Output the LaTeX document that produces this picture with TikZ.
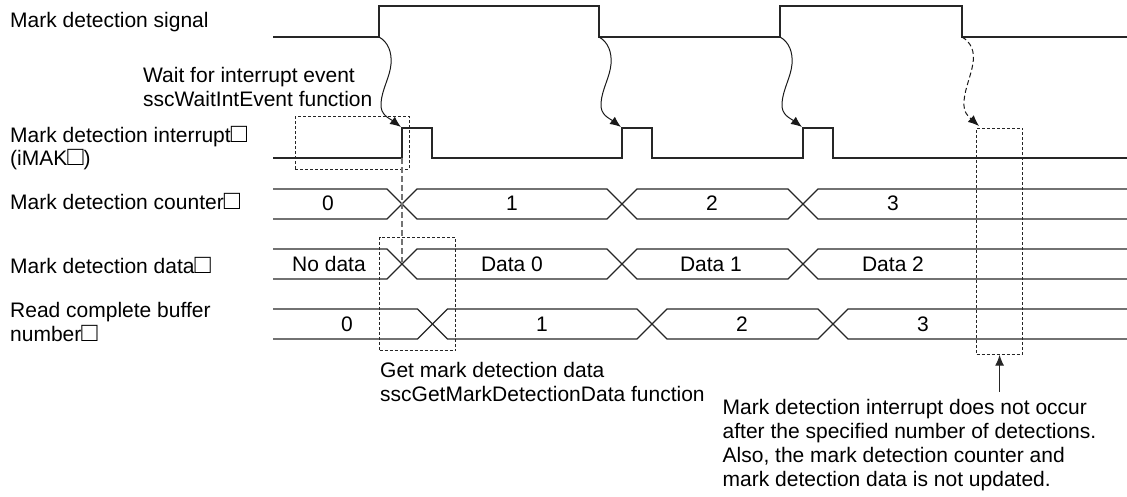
\documentclass[tikz,border=0pt]{standalone}
\usepackage{fontspec}
\setmainfont{Liberation Sans}
\usetikzlibrary{arrows.meta, positioning, calc}
\newcommand{\wsq}{{\fontsize{27pt}{27pt}\selectfont □}}

\begin{document}
\begin{tikzpicture}[x=1pt, y=-1pt,
  txt/.style={inner sep=0pt, align=left, font=\fontsize{21pt}{23.7pt}\selectfont},
  sig/.style={draw=black!85, line width=1.5pt},
  bus/.style={draw=black!85, line width=1.3pt},
  dbox/.style={draw=black!85, line width=1pt, dash pattern=on 3pt off 2pt, inner sep=0pt},
  wave/.style={draw=black!90, line width=1pt, -{Latex[length=11pt, width=9pt]}},
  guide/.style={draw=black!55, line width=1.3pt, dash pattern=on 6pt off 3pt},
  arr/.style={draw=black!85, line width=1.2pt, -{Latex[length=11pt, width=9pt]}}
]
\useasboundingbox (0,0) rectangle (1127,497);

%% signal names (base = last line)
\node[txt, anchor=base west] (sigl)  at (10,28)    {Mark detection signal};
\node[txt, anchor=base west] (waitl) at (143,106.5) {Wait for interrupt event\\sscWaitIntEvent function};
\node[txt, anchor=base west] (irql)  at (10,166)   {Mark detection interrupt\wsq\\(iMAK\wsq)};
\node[txt, anchor=base west] (cntl)  at (10,210)   {Mark detection counter\wsq};
\node[txt, anchor=base west] (datl)  at (10,273)   {Mark detection data\wsq};
\node[txt, anchor=base west] (bufl)  at (10,341)   {Read complete buffer\\number\wsq};

%% mark detection signal / interrupt
\draw[sig] (273,37) -- (379,37) -- (379,6) -- (599,6) -- (599,37) -- (780,37)
  -- (780,6) -- (962,6) -- (962,37) -- (1127,37);
\draw[sig] (273,158) -- (402,158) -- (402,128) -- (432,128) -- (432,158) -- (622,158)
  -- (622,128) -- (652,128) -- (652,158) -- (803,158) -- (803,128) -- (833,128)
  -- (833,158) -- (1127,158);

%% edges
\coordinate (rise1) at (379,37);
\coordinate (rise2) at (599,37);
\coordinate (rise3) at (780,37);
\coordinate (fall3) at (962,37);
\coordinate (irq1) at (401,127);
\coordinate (irq2) at (621,127);
\coordinate (irq3) at (802,127);
\coordinate (noirq) at (979,126);

%% interrupt arrows
\foreach \s/\e in {rise1/irq1, rise2/irq2, rise3/irq3}
  \draw[wave] (\s) .. controls ($(\s)+(9,5)$) and ($(\s)+(13,15)$) .. ($(\s)+(12,27)$)
    .. controls ($(\s)+(11,40)$) and ($(\s)+(3,52)$) .. ($(\s)+(2,66)$)
    .. controls ($(\s)+(1,78)$) and ($(\e)+(-12,-9)$) .. (\e);
\draw[wave, dash pattern=on 5pt off 3pt] (fall3) .. controls ($(fall3)+(9,5)$) and ($(fall3)+(13,15)$) .. ($(fall3)+(11,26)$)
    .. controls ($(fall3)+(9,39)$) and ($(fall3)+(3,51)$) .. ($(fall3)+(2,64)$)
    .. controls ($(fall3)+(1,76)$) and ($(noirq)+(-10,-9)$) .. (noirq);

%% buses
\foreach \y/\c/\d/\e in {204/402/622/803, 264/402/622/803, 324/432.5/652/833} {
  \draw[bus] (273,\y-15) -- (\c-15,\y-15) -- (\c,\y) -- (\c-15,\y+15) -- (273,\y+15);
  \draw[bus] (\c,\y) -- (\c+15,\y-15) -- (\d-15,\y-15) -- (\d,\y) -- (\d-15,\y+15) -- (\c+15,\y+15) -- cycle;
  \draw[bus] (\d,\y) -- (\d+15,\y-15) -- (\e-15,\y-15) -- (\e,\y) -- (\e-15,\y+15) -- (\d+15,\y+15) -- cycle;
  \draw[bus] (1127,\y-15) -- (\e+15,\y-15) -- (\e,\y) -- (\e+15,\y+15) -- (1127,\y+15);
}

%% bus values
\node[txt, anchor=base] (cnt0) at (328,211) {0};
\node[txt, anchor=base] (cnt1) at (512,211) {1};
\node[txt, anchor=base] (cnt2) at (712,211) {2};
\node[txt, anchor=base] (cnt3) at (893,211) {3};
\node[txt, anchor=base] (dat0) at (329,271) {No data};
\node[txt, anchor=base] (dat1) at (512,271) {Data 0};
\node[txt, anchor=base] (dat2) at (711,271) {Data 1};
\node[txt, anchor=base] (dat3) at (893,271) {Data 2};
\node[txt, anchor=base] (buf0) at (347,331) {0};
\node[txt, anchor=base] (buf1) at (542,331) {1};
\node[txt, anchor=base] (buf2) at (742,331) {2};
\node[txt, anchor=base] (buf3) at (923,331) {3};

%% dashed boxes
\node[dbox, minimum width=114pt, minimum height=52.6pt] (waitbox) at (352.2,143) {};
\node[dbox, minimum width=76pt, minimum height=113.4pt] (getbox) at (417.6,294) {};
\node[dbox, minimum width=46pt, minimum height=226pt] (nointbox) at (999.6,241.2) {};
\coordinate (irqlow1) at (402,158);
\coordinate (datx1) at (402,262);
\draw[guide] (irqlow1) -- (datx1);

%% notes
\node[txt, anchor=base west] (getl) at (380,401.5) {Get mark detection data\\sscGetMarkDetectionData function};
\node[txt, anchor=base west] (note) at (722.5,486) {Mark detection interrupt does not occur\\after the specified number of detections.\\Also, the mark detection counter and\\mark detection data is not updated.};
\draw[arr] ($(nointbox.south)+(0,37)$) -- (nointbox.south);

\end{tikzpicture}
\end{document}
